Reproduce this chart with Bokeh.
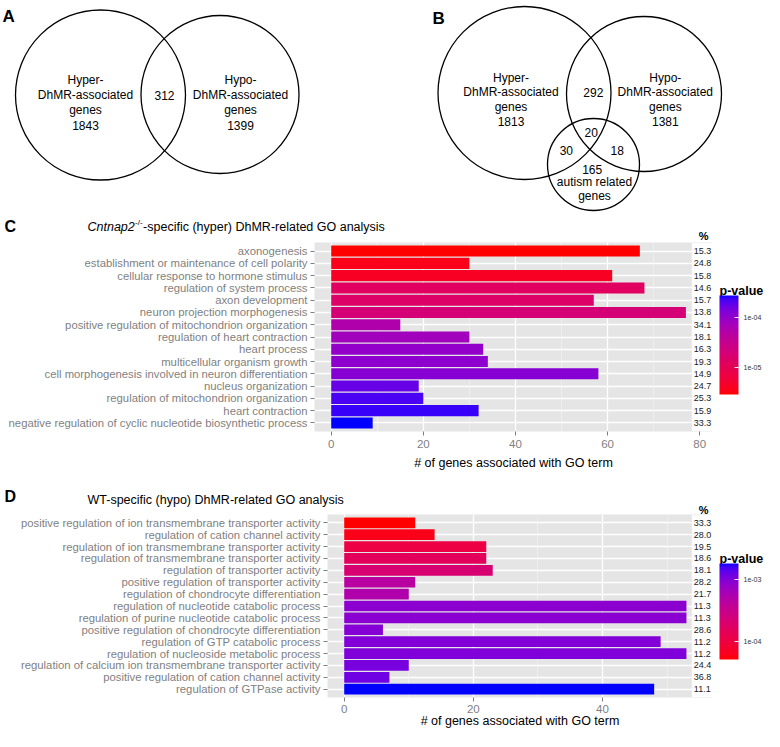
import math
from bokeh.plotting import figure
from bokeh.models import (ColumnDataSource, FactorRange, Range1d, ColorBar,
                          LogColorMapper, FixedTicker, SingleIntervalTicker)
from bokeh.layouts import column, row
from bokeh.embed import file_html
from bokeh.resources import INLINE
from bokeh.core.properties import value

FONT = "Liberation Sans"

# ------------------------------------------------------------------ data
venn_a_sets = [["Hyper-", "DhMR-associated", "genes"], ["Hypo-", "DhMR-associated", "genes"]]
venn_a_counts = [1843, 1399]
venn_a_overlap = [312]

venn_b_sets = [["Hyper-", "DhMR-associated", "genes"], ["Hypo-", "DhMR-associated", "genes"]]
venn_b_counts = [1813, 1381]
venn_b_autism_lines = ["autism related", "genes"]
venn_b_autism_count = [165]
venn_b_overlaps = [292, 20, 30, 18]   # hyper&hypo, all three, hyper&autism, hypo&autism

c_terms = [
    "axonogenesis",
    "establishment or maintenance of cell polarity",
    "cellular response to hormone stimulus",
    "regulation of system process",
    "axon development",
    "neuron projection morphogenesis",
    "positive regulation of mitochondrion organization",
    "regulation of heart contraction",
    "heart process",
    "multicellular organism growth",
    "cell morphogenesis involved in neuron differentiation",
    "nucleus organization",
    "regulation of mitochondrion organization",
    "heart contraction",
    "negative regulation of cyclic nucleotide biosynthetic process",
]
c_genes = [67, 30, 61, 68, 57, 77, 15, 30, 33, 34, 58, 19, 20, 32, 9]
c_percent = [15.3, 24.8, 15.8, 14.6, 15.7, 13.8, 34.1, 18.1, 16.3, 19.3, 14.9, 24.7, 25.3, 15.9, 33.3]
c_pvalue = [2.9e-6, 3.6e-6, 4.2e-6, 1.24e-5, 1.42e-5, 1.96e-5, 5.6e-5, 7.7e-5,
            1.0e-4, 1.1e-4, 1.2e-4, 1.75e-4, 2.2e-4, 2.4e-4, 2.75e-4]
c_cb_ticks = [1e-5, 1e-4]
c_cb_labels = ["1e-05", "1e-04"]

d_terms = [
    "positive regulation of ion transmembrane transporter activity",
    "regulation of cation channel activity",
    "regulation of ion transmembrane transporter activity",
    "regulation of transmembrane transporter activity",
    "regulation of transporter activity",
    "positive regulation of transporter activity",
    "regulation of chondrocyte differentiation",
    "regulation of nucleotide catabolic process",
    "regulation of purine nucleotide catabolic process",
    "positive regulation of chondrocyte differentiation",
    "regulation of GTP catabolic process",
    "regulation of nucleoside metabolic process",
    "regulation of calcium ion transmembrane transporter activity",
    "positive regulation of cation channel activity",
    "regulation of GTPase activity",
]
d_genes = [11, 14, 22, 22, 23, 11, 10, 53, 53, 6, 49, 53, 10, 7, 48]
d_percent = [33.3, 28.0, 19.5, 18.6, 18.1, 28.2, 21.7, 11.3, 11.3, 28.6, 11.2, 11.2, 24.4, 36.8, 11.1]
d_pvalue = [5.1e-5, 6.1e-5, 1.05e-4, 1.5e-4, 2.1e-4, 4.4e-4, 5.2e-4, 8.9e-4,
            9.0e-4, 9.6e-4, 9.9e-4, 1.03e-3, 1.1e-3, 1.19e-3, 1.8e-3]
d_cb_ticks = [1e-4, 1e-3]
d_cb_labels = ["1e-04", "1e-03"]


# ------------------------------------------------------------------ red -> blue gradient in CIE Lab (as ggplot)
def _lin(c):
    c = c / 255.0
    return c / 12.92 if c <= 0.04045 else ((c + 0.055) / 1.055) ** 2.4


def _gam(c):
    c = max(0.0, min(1.0, c))
    v = 12.92 * c if c <= 0.0031308 else 1.055 * c ** (1 / 2.4) - 0.055
    return int(round(v * 255))


def _f(t):
    d = 6 / 29
    return t ** (1 / 3) if t > d ** 3 else t / (3 * d * d) + 4 / 29


def _finv(t):
    d = 6 / 29
    return t ** 3 if t > d else 3 * d * d * (t - 4 / 29)


def rgb2lab(rgb):
    r, g, b = (_lin(c) for c in rgb)
    X = (0.4124 * r + 0.3576 * g + 0.1805 * b) / 0.95047
    Y = 0.2126 * r + 0.7152 * g + 0.0722 * b
    Z = (0.0193 * r + 0.1192 * g + 0.9505 * b) / 1.08883
    return 116 * _f(Y) - 16, 500 * (_f(X) - _f(Y)), 200 * (_f(Y) - _f(Z))


def lab2hex(L, a, b):
    fy = (L + 16) / 116
    X = 0.95047 * _finv(fy + a / 500)
    Y = _finv(fy)
    Z = 1.08883 * _finv(fy - b / 200)
    r = 3.2406 * X - 1.5372 * Y - 0.4986 * Z
    g = -0.9689 * X + 1.8758 * Y + 0.0415 * Z
    bb = 0.0557 * X - 0.2040 * Y + 1.0570 * Z
    return "#%02x%02x%02x" % (_gam(r), _gam(g), _gam(bb))


lo_lab, hi_lab = rgb2lab((255, 0, 0)), rgb2lab((0, 0, 255))
PALETTE = [lab2hex(*[lo_lab[k] + (hi_lab[k] - lo_lab[k]) * i / 255 for k in range(3)]) for i in range(256)]

W = 764


def canvas(w, h):
    p = figure(width=w, height=h, x_range=Range1d(0, w), y_range=Range1d(h, 0),
               x_axis_type=None, y_axis_type=None, toolbar_location=None, title=None,
               output_backend="svg", min_border=0, frame_align=False)
    p.outline_line_color = None
    return p


def put_text(p, xs, ys, texts, size, style="normal", align="left", baseline="alphabetic", color="black"):
    p.text(x=xs, y=ys, text=texts, text_font=value(FONT), text_font_size=size,
           text_font_style=style, text_align=align, text_baseline=baseline, text_color=color)


# ------------------------------------------------------------------ top canvas: Venn A, Venn B and header of C
TOP_H = 242
top = canvas(W, TOP_H)
circ_x = [100, 219.5, 524, 643.5, 593]
circ_y = [94.5, 94, 92.5, 93.5, 164]
circ_r = [85, 79, 86.5, 77.5, 46]
top.circle(x=circ_x, y=circ_y, radius=circ_r, fill_color=None, line_color="black", line_width=1.3)

tx, ty, tt = [], [], []


def put_set(lines, count, x, y0, pitch):
    for i, s in enumerate(lines):
        tx.append(x); ty.append(y0 + i * pitch); tt.append(s)
    tx.append(x); ty.append(y0 + len(lines) * pitch); tt.append(str(count))


put_set(venn_a_sets[0], venn_a_counts[0], 85, 79, 15.3)
put_set(venn_a_sets[1], venn_a_counts[1], 240, 79, 15.3)
tx.append(164); ty.append(95); tt.append(str(venn_a_overlap[0]))
put_set(venn_b_sets[0], venn_b_counts[0], 510.5, 77, 14.8)
put_set(venn_b_sets[1], venn_b_counts[1], 664.8, 77, 14.8)
for (x, y), n in zip([(592.8, 92), (590.7, 131.7), (565.8, 150), (616.7, 150)], venn_b_overlaps):
    tx.append(x); ty.append(y); tt.append(str(n))
tx.append(591.7); ty.append(168.5); tt.append(str(venn_b_autism_count[0]))
for i, s in enumerate(venn_b_autism_lines):
    tx.append(594); ty.append(181 + i * 14); tt.append(s)
put_text(top, tx, ty, tt, "12px", align="center", baseline="middle")
put_text(top, [2, 432], [16, 18], ["A", "B"], "17px", style="bold")

# header of panel C
put_text(top, [4], [225.5], ["C"], "16px", style="bold")
put_text(top, [87], [226.5], ["Cntnap2"], "12.5px", style="italic")
put_text(top, [87 + 47.5], [221.5], ["-/-"], "8px")
put_text(top, [87 + 55.6], [226.5], ["-specific (hyper) DhMR-related GO analysis"], "12.5px")
put_text(top, [314 + (708 - 317) * 398 / 405], [235], ["%"], "11px", style="bold")

# header of panel D
MID_H = 38
mid = canvas(W, MID_H)
put_text(mid, [4], [20], ["D"], "16px", style="bold")
put_text(mid, [87], [23.5], ["WT-specific (hypo) DhMR-related GO analysis"], "12.5px")
put_text(mid, [327 + (708 - 330) * 385 / 392], [33], ["%"], "11px", style="bold")


# ------------------------------------------------------------------ GO bar panels
def go_panel(terms, genes, pct, pvals, cb_ticks, cb_labels, cfg):
    factors = list(reversed(terms))
    p = figure(x_range=Range1d(cfg["x0"], cfg["x1"]),
               y_range=FactorRange(factors=factors, range_padding=0.2, range_padding_units="absolute"),
               frame_width=cfg["fw"], frame_height=cfg["fh"], title=None,
               min_border_left=cfg["bl"], min_border_right=0,
               min_border_top=0, min_border_bottom=cfg["bb"],
               toolbar_location=None, output_backend="svg", frame_align=False)
    p.background_fill_color = "#E5E5E5"
    p.border_fill_color = "white"
    p.outline_line_color = None

    ticker = SingleIntervalTicker(interval=20, num_minor_ticks=2)
    p.xaxis.ticker = ticker
    p.xgrid.ticker = ticker
    p.xgrid.grid_line_color = "white"
    p.xgrid.grid_line_width = 1.3
    p.xgrid.minor_grid_line_color = "#F2F2F2"
    p.xgrid.minor_grid_line_width = 0.7
    p.ygrid.grid_line_color = "white"
    p.ygrid.grid_line_width = 1.3

    for ax in (p.xaxis[0], p.yaxis[0]):
        ax.axis_line_color = None
        ax.major_tick_line_color = "#7F7F7F"
        ax.major_tick_out = 4
        ax.major_tick_in = 0
        ax.minor_tick_line_color = None
        ax.major_label_text_color = "#7F7F7F"
        ax.major_label_text_font = FONT
    p.yaxis.major_label_text_font_size = "11.3px"
    p.yaxis.major_label_standoff = 3
    p.xaxis.major_label_text_font_size = "11.5px"
    p.xaxis.major_label_standoff = cfg["xstand"]
    p.xaxis.axis_label = "# of genes associated with GO term"
    p.xaxis.axis_label_text_font = FONT
    p.xaxis.axis_label_text_font_style = "normal"
    p.xaxis.axis_label_text_font_size = "12.5px"
    p.xaxis.axis_label_text_color = "black"
    p.xaxis.axis_label_standoff = cfg["lstand"]

    mapper = LogColorMapper(palette=PALETTE, low=min(pvals), high=max(pvals))
    src = ColumnDataSource(dict(term=terms, genes=genes, p=pvals, pct=["%.1f" % v for v in pct]))
    p.hbar(y="term", left=0, right="genes", height=0.9, source=src,
           fill_color={"field": "p", "transform": mapper}, line_color=None)
    # white strip that carries the % column
    p.hbar(y="term", left=cfg["strip"], right=cfg["x1"] + 5, height=1.3, source=src,
           fill_color="white", line_color=None)
    p.text(x=cfg["pctx"], y="term", text="pct", source=src, text_font=value(FONT),
           text_font_size="9px", text_align="left", text_baseline="middle", text_color="#1a1a1a")

    # legend column (p-value colour bar)
    h = cfg["fh"] + cfg["bb"]
    leg = canvas(W - cfg["bl"] - cfg["fw"], h)
    put_text(leg, [7], [cfg["ty"]], ["p-value"], "12.5px", style="bold")
    cb = ColorBar(color_mapper=mapper, ticker=FixedTicker(ticks=cb_ticks),
                  major_label_overrides=dict(zip(cb_ticks, cb_labels)),
                  orientation="vertical", width=19, height=cfg["cbh"],
                  location=(7, h - cfg["cbb"]), padding=0, margin=0,
                  major_label_text_font=FONT, major_label_text_font_size="7px",
                  major_label_text_color="#333333", label_standoff=5,
                  major_tick_line_color="white", major_tick_in=4, major_tick_out=0,
                  minor_tick_line_color=None, bar_line_color=None,
                  background_fill_color=None, border_line_color=None)
    leg.add_layout(cb)
    return row(p, leg, spacing=0)


c_cfg = dict(x0=(317 - 334) / 4.6875, x1=(722 - 334) / 4.6875, fw=398, fh=189, bl=314, bb=45,
             xstand=4, lstand=5, strip=(701 - 334) / 4.6875, pctx=(703 - 334) / 4.6875,
             ty=298 - 250, cbh=99, cbb=402 - 250)
d_cfg = dict(x0=(330 - 347) / 6.575, x1=(722 - 347) / 6.575, fw=385, fh=183, bl=327, bb=34,
             xstand=3, lstand=-2, strip=(701 - 347) / 6.575, pctx=(703 - 347) / 6.575,
             ty=576.5 - 532, cbh=96, cbb=677 - 532)

rc = go_panel(c_terms, c_genes, c_percent, c_pvalue, c_cb_ticks, c_cb_labels, c_cfg)
rd = go_panel(d_terms, d_genes, d_percent, d_pvalue, d_cb_ticks, d_cb_labels, d_cfg)

layout = column(top, rc, mid, rd, spacing=0)
open("out.html", "w").write(file_html(layout, INLINE))
